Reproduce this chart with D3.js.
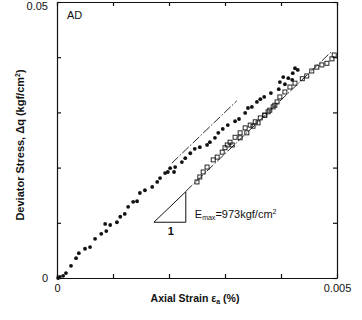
<!DOCTYPE html>
<html>
<head>
<meta charset="utf-8">
<script src="https://cdn.jsdelivr.net/npm/d3@7"></script>
<style>
  body { margin: 0; background: #fff; }
  text { font-family: "Liberation Sans", Arial, sans-serif; fill: #111; }
</style>
</head>
<body>
<div id="chart"></div>
<script>
// axial strain (%) and deviator stress (kgf/cm2)
const solidStrain = [0.00002, 0.00005, 0.00011, 0.00016, 0.00025, 0.00034, 0.00039, 0.00050, 0.00059, 0.00068,
  0.00079, 0.00086, 0.00088, 0.00095, 0.00107, 0.00113, 0.00121, 0.00127, 0.00136, 0.00143,
  0.00148, 0.00157, 0.00170, 0.00179, 0.00184, 0.00193, 0.00198, 0.00202, 0.00209, 0.00211,
  0.00223, 0.00229, 0.00238, 0.00246, 0.00255, 0.00268, 0.00273, 0.00282, 0.00288, 0.00296,
  0.00305, 0.00318, 0.00325, 0.00336, 0.00341, 0.00348, 0.00357, 0.00363, 0.00370, 0.00382,
  0.00396, 0.00398, 0.00404, 0.00407, 0.00413, 0.00420, 0.00421, 0.00425, 0.00430];
const solidStress = [0.0000, 0.0002, 0.0004, 0.0009, 0.0022, 0.0036, 0.0045, 0.0053, 0.0056, 0.0071,
  0.0080, 0.0098, 0.0085, 0.0096, 0.0101, 0.0111, 0.0116, 0.0129, 0.0138, 0.0139,
  0.0154, 0.0159, 0.0165, 0.0174, 0.0181, 0.0190, 0.0192, 0.0199, 0.0192, 0.0201,
  0.0210, 0.0217, 0.0226, 0.0234, 0.0237, 0.0241, 0.0246, 0.0254, 0.0263, 0.0270,
  0.0277, 0.0284, 0.0288, 0.0299, 0.0308, 0.0310, 0.0319, 0.0324, 0.0328, 0.0335,
  0.0342, 0.0355, 0.0364, 0.0351, 0.0362, 0.0359, 0.0371, 0.0380, 0.0377];

const openStrain = [0.00250, 0.00255, 0.00261, 0.00268, 0.00279, 0.00286, 0.00295, 0.00304, 0.00309, 0.00318,
  0.00327, 0.00336, 0.00345, 0.00354, 0.00363, 0.00371, 0.00377, 0.00386, 0.00393, 0.00398,
  0.00407, 0.00416, 0.00425, 0.00438, 0.00446, 0.00455, 0.00464, 0.00473, 0.00482, 0.00491, 0.00495,
  0.00300, 0.00313, 0.00327, 0.00339, 0.00350, 0.00359, 0.00371, 0.00380, 0.00389];
const openStress = [0.0174, 0.0183, 0.0192, 0.0201, 0.0214, 0.0219, 0.0228, 0.0241, 0.0246, 0.0255,
  0.0263, 0.0272, 0.0277, 0.0283, 0.0290, 0.0295, 0.0301, 0.0310, 0.0319, 0.0328,
  0.0337, 0.0346, 0.0353, 0.0361, 0.0366, 0.0375, 0.0382, 0.0386, 0.0389, 0.0397, 0.0404,
  0.0236, 0.0241, 0.0254, 0.0263, 0.0275, 0.0281, 0.0295, 0.0304, 0.0313];

// E_max guide lines: start point (strain %, stress) and end strain
const eMax = 973;
const guideStart = [[0.00205, 0.0208], [0.00230, 0.0157]];
const guideEnd = [0.00321, 0.00491];
const triangle = [0.00173, 0.0101, 0.00230]; // x0, y0, x1

const xTicks = [0, 0.001, 0.002, 0.003, 0.004, 0.005];
const yTicks = [0, 0.01, 0.02, 0.03, 0.04, 0.05];

const width = 362, height = 320;
const margin = {top: 2, right: 25, bottom: 42, left: 57};

const svg = d3.select('#chart').append('svg')
  .attr('width', width)
  .attr('height', height);

const x = d3.scaleLinear().domain([0, 0.005]).range([margin.left, width - margin.right]);
const y = d3.scaleLinear().domain([0, 0.05]).range([height - margin.bottom, margin.top]);

const fmt = d => (d === 0 ? '0' : (d === 0.005 ? '0.005' : (d === 0.05 ? '0.05' : '')));

// axes, ticks pointing inward
svg.append('g')
  .attr('transform', 'translate(0,' + y(0) + ')')
  .call(d3.axisBottom(x).tickValues(xTicks).tickSizeInner(-4).tickSizeOuter(0).tickPadding(6).tickFormat(fmt));
const ay = svg.append('g')
  .attr('transform', 'translate(' + x(0) + ',0)')
  .call(d3.axisLeft(y).tickValues(yTicks).tickSizeInner(-4).tickSizeOuter(0).tickPadding(9).tickFormat(fmt));
svg.append('g')
  .attr('transform', 'translate(' + x(0.005) + ',0)')
  .call(d3.axisRight(y).tickValues(yTicks).tickSizeInner(-4).tickSizeOuter(0).tickFormat(''));
svg.append('g')
  .attr('transform', 'translate(0,' + y(0.05) + ')')
  .call(d3.axisTop(x).tickValues(xTicks).tickSizeInner(-4).tickSizeOuter(0).tickFormat(''));

svg.selectAll('.domain, .tick line').attr('stroke', '#111').attr('stroke-width', 1.2);
svg.selectAll('.tick text').style('font-size', '11px').style('font-family', '"Liberation Sans", Arial, sans-serif').attr('fill', '#111');
// top label sits at the very edge; keep it inside the window
ay.selectAll('.tick text').filter(d => d === 0.05).attr('dy', '0.72em');

// guide lines with slope E_max
const dashDot = '9,2,1.5,2';
guideStart.forEach((s, i) => {
  const x2 = guideEnd[i];
  const y2 = s[1] + eMax * (x2 - s[0]) / 100;
  svg.append('line')
    .attr('x1', x(s[0])).attr('y1', y(s[1]))
    .attr('x2', x(x2)).attr('y2', y(y2))
    .attr('stroke', '#111').attr('stroke-width', 0.9)
    .attr('stroke-dasharray', dashDot);
});

// slope triangle
const triTop = triangle[1] + eMax * (triangle[2] - triangle[0]) / 100;
svg.append('path')
  .attr('d', 'M' + x(triangle[0]) + ',' + y(triangle[1]) +
    'L' + x(triangle[2]) + ',' + y(triangle[1]) +
    'L' + x(triangle[2]) + ',' + y(triTop) + 'Z')
  .attr('fill', 'none').attr('stroke', '#111').attr('stroke-width', 1);
svg.append('text')
  .attr('x', (x(triangle[0]) + x(triangle[2])) / 2 + 1)
  .attr('y', y(triangle[1]) + 13)
  .attr('text-anchor', 'middle')
  .style('font-size', '11px').style('font-weight', 'bold')
  .text('1');

const eText = svg.append('text')
  .attr('x', x(triangle[2]) + 9)
  .attr('y', y(triangle[1]) - 4)
  .style('font-size', '11px');
eText.append('tspan').text('E');
eText.append('tspan').attr('dy', 2).style('font-size', '7px').text('max');
eText.append('tspan').attr('dy', -2).text('=973kgf/cm');
eText.append('tspan').attr('dy', -4).style('font-size', '7px').text('2');

// open markers
svg.append('g').selectAll('rect')
  .data(d3.range(openStrain.length))
  .join('rect')
  .attr('x', i => x(openStrain[i]) - 2)
  .attr('y', i => y(openStress[i]) - 2)
  .attr('width', 4)
  .attr('height', 4)
  .attr('fill', 'none')
  .attr('stroke', '#111')
  .attr('stroke-width', 0.9);

// solid markers
svg.append('g').selectAll('circle')
  .data(d3.range(solidStrain.length))
  .join('circle')
  .attr('cx', i => x(solidStrain[i]))
  .attr('cy', i => y(solidStress[i]))
  .attr('r', 1.9)
  .attr('fill', '#111');

// labels
svg.append('text')
  .attr('x', x(0) + 10).attr('y', 19)
  .style('font-size', '11px')
  .text('AD');

const xl = svg.append('text')
  .attr('x', (x(0) + x(0.005)) / 2 - 2)
  .attr('y', 302)
  .attr('text-anchor', 'middle')
  .style('font-size', '10.5px').style('font-weight', 'bold');
xl.append('tspan').text('Axial Strain ε');
xl.append('tspan').attr('dy', 2).style('font-size', '7px').text('a');
xl.append('tspan').attr('dy', -2).text(' (%)');

const yl = svg.append('text')
  .attr('transform', 'translate(24,' + 145 + ') rotate(-90)')
  .attr('text-anchor', 'middle')
  .style('font-size', '11px').style('font-weight', 'bold');
yl.append('tspan').text('Deviator Stress, Δq (kgf/cm');
yl.append('tspan').attr('dy', -4).style('font-size', '7px').text('2');
yl.append('tspan').attr('dy', 4).text(')');
</script>
</body>
</html>
